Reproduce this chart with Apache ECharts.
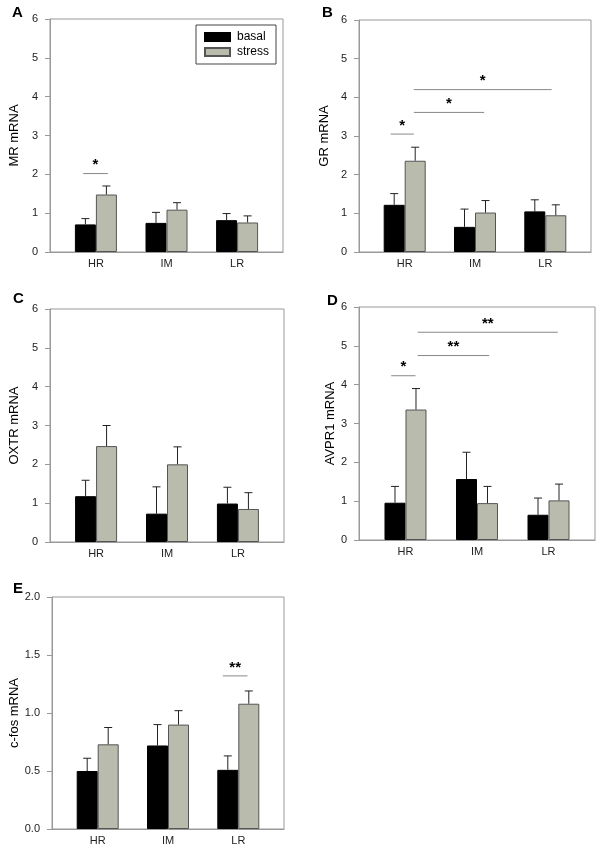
<!DOCTYPE html>
<html>
<head>
<meta charset="utf-8">
<script src="https://cdn.jsdelivr.net/npm/echarts@6/dist/echarts.min.js"></script>
<style>
  html, body { margin: 0; padding: 0; background: #fff; }
  #main { width: 600px; height: 850px; }
</style>
</head>
<body>
<div id="main"></div>
<script>
// groups on the x axis (placed at x = 1, 2, 3 of a value axis)
var groups = ['HR', 'IM', 'LR'];
var groupPos = [1, 2, 3];

// A - MR
var mrBasal = [0.71, 0.75, 0.82];
var mrBasalSem = [0.15, 0.27, 0.17];
var mrStress = [1.48, 1.09, 0.76];
var mrStressSem = [0.22, 0.18, 0.17];
var mrSig = [[0.82, 1.17, 2.02, '*']];

// B - GR
var grBasal = [1.22, 0.65, 1.05];
var grBasalSem = [0.29, 0.46, 0.30];
var grStress = [2.36, 1.02, 0.95];
var grStressSem = [0.35, 0.31, 0.27];
var grSig = [
  [0.8, 1.13, 3.05, '*'],
  [1.13, 2.13, 3.61, '*'],
  [1.13, 3.09, 4.2, '*']
];

// C - OXTR
var oxtrBasal = [1.18, 0.73, 0.99];
var oxtrBasalSem = [0.41, 0.69, 0.42];
var oxtrStress = [2.47, 2.0, 0.85];
var oxtrStressSem = [0.53, 0.45, 0.42];
var oxtrSig = [];

// D - AVPR1
var avprBasal = [0.96, 1.57, 0.65];
var avprBasalSem = [0.42, 0.69, 0.43];
var avprStress = [3.36, 0.95, 1.02];
var avprStressSem = [0.54, 0.43, 0.42];
var avprSig = [
  [0.8, 1.14, 4.23, '*'],
  [1.17, 2.17, 4.75, '**'],
  [1.17, 3.13, 5.35, '**']
];

// E - c-fos
var cfosBasal = [0.50, 0.72, 0.51];
var cfosBasalSem = [0.11, 0.18, 0.12];
var cfosStress = [0.73, 0.90, 1.08];
var cfosStressSem = [0.145, 0.12, 0.11];
var cfosSig = [[2.78, 3.13, 1.32, '**']];

var yTicks6 = { max: 6, interval: 1, digits: 0 };
var yTicks2 = { max: 2, interval: 0.5, digits: 1 };

var panels = [
  { letter: 'A', yName: 'MR mRNA', basal: mrBasal, basalSem: mrBasalSem, stress: mrStress, stressSem: mrStressSem, sig: mrSig, ticks: yTicks6 },
  { letter: 'B', yName: 'GR mRNA', basal: grBasal, basalSem: grBasalSem, stress: grStress, stressSem: grStressSem, sig: grSig, ticks: yTicks6 },
  { letter: 'C', yName: 'OXTR mRNA', basal: oxtrBasal, basalSem: oxtrBasalSem, stress: oxtrStress, stressSem: oxtrStressSem, sig: oxtrSig, ticks: yTicks6 },
  { letter: 'D', yName: 'AVPR1 mRNA', basal: avprBasal, basalSem: avprBasalSem, stress: avprStress, stressSem: avprStressSem, sig: avprSig, ticks: yTicks6 },
  { letter: 'E', yName: 'c-fos mRNA', basal: cfosBasal, basalSem: cfosBasalSem, stress: cfosStress, stressSem: cfosStressSem, sig: cfosSig, ticks: yTicks2 }
];

// layout of each panel (px)
var layout = [
  { left: 50, top: 19, width: 233, height: 233, nameGap: 29, lx: 12, ly: 5 },
  { left: 359, top: 20, width: 232, height: 232, nameGap: 28, lx: 322, ly: 5 },
  { left: 50, top: 309, width: 234, height: 233, nameGap: 29, lx: 13, ly: 291 },
  { left: 359, top: 307, width: 236, height: 233, nameGap: 22, lx: 327, ly: 293 },
  { left: 52, top: 597, width: 232, height: 232, nameGap: 31, lx: 13, ly: 581 }
];

var FONT = 'Liberation Sans, Arial, Helvetica, sans-serif';
var BAR_W = 21;
var AXIS_COLOR = '#999';
var STRESS_COLOR = '#b9bbac';

function pairs(vals) {
  return vals.map(function(v, i) {
    return [groupPos[i], v];
  });
}

function errData(vals, sems, side) {
  return vals.map(function(v, i) {
    return [groupPos[i], v, sems[i], side];
  });
}

function renderErr(params, api) {
  var top = api.coord([api.value(0), api.value(1) + api.value(2)]);
  var base = api.coord([api.value(0), api.value(1)]);
  var cx = base[0] + api.value(3) * BAR_W / 2;
  var style = { stroke: '#222', lineWidth: 1 };
  return {
    type: 'group',
    children: [
      { type: 'line', shape: { x1: cx, y1: base[1], x2: cx, y2: top[1] }, style: style },
      { type: 'line', shape: { x1: cx - 4, y1: top[1], x2: cx + 4, y2: top[1] }, style: style }
    ]
  };
}

function renderSig(params, api) {
  var p1 = api.coord([api.value(0), api.value(2)]);
  var p2 = api.coord([api.value(1), api.value(2)]);
  return {
    type: 'group',
    children: [
      { type: 'line', shape: { x1: p1[0], y1: p1[1], x2: p2[0], y2: p2[1] }, style: { stroke: '#888', lineWidth: 1 } },
      {
        type: 'text',
        x: (p1[0] + p2[0]) / 2,
        y: p1[1] - 1,
        style: {
          text: api.value(3),
          fill: '#000',
          font: 'bold 15px ' + FONT,
          align: 'center',
          verticalAlign: 'bottom'
        }
      }
    ]
  };
}

var option = {
  backgroundColor: '#fff',
  animation: false,
  textStyle: { fontFamily: FONT },
  title: [],
  legend: {
    left: 196,
    top: 25,
    orient: 'vertical',
    data: ['basal', 'stress'],
    icon: 'rect',
    itemWidth: 25,
    itemHeight: 8,
    itemGap: 3,
    padding: [6, 7, 6, 8],
    borderColor: '#444',
    borderWidth: 1,
    textStyle: { fontSize: 12, color: '#000', fontFamily: FONT, padding: [0, 0, 0, 2] }
  },
  grid: [],
  xAxis: [],
  yAxis: [],
  series: []
};

panels.forEach(function(p, i) {
  var l = layout[i];
  option.title.push({
    text: p.letter,
    left: l.lx,
    top: l.ly,
    padding: 0,
    textStyle: { fontSize: 15, fontWeight: 'bold', color: '#000', fontFamily: FONT }
  });
  option.grid.push({
    left: l.left,
    top: l.top,
    width: l.width,
    height: l.height,
    show: true,
    borderColor: AXIS_COLOR,
    borderWidth: 1,
    containLabel: false,
    outerBoundsMode: 'none'
  });
  option.xAxis.push({
    type: 'value',
    gridIndex: i,
    min: 0.35,
    max: 3.65,
    axisLine: { lineStyle: { color: AXIS_COLOR } },
    axisTick: { show: false },
    splitLine: { show: false },
    axisLabel: {
      customValues: groupPos,
      color: '#222',
      fontSize: 11,
      margin: 6,
      formatter: function(v) {
        return groups[groupPos.indexOf(Math.round(v))] || '';
      }
    }
  });
  option.yAxis.push({
    type: 'value',
    gridIndex: i,
    min: 0,
    max: p.ticks.max,
    interval: p.ticks.interval,
    name: p.yName,
    nameLocation: 'middle',
    nameGap: l.nameGap,
    nameTextStyle: { fontSize: 13, color: '#000', fontFamily: FONT },
    axisLine: { show: true, lineStyle: { color: AXIS_COLOR } },
    axisTick: { show: true, length: 5, lineStyle: { color: AXIS_COLOR } },
    splitLine: { show: false },
    axisLabel: {
      color: '#222',
      fontSize: 11,
      margin: 12,
      formatter: (function(d) {
        return function(v) { return v.toFixed(d); };
      })(p.ticks.digits)
    }
  });
  option.series.push(
    {
      name: 'basal',
      type: 'bar',
      xAxisIndex: i,
      yAxisIndex: i,
      barWidth: BAR_W,
      barGap: '0%',
      itemStyle: { color: '#000', borderColor: '#000', borderWidth: 1 },
      data: pairs(p.basal)
    },
    {
      name: 'stress',
      type: 'bar',
      xAxisIndex: i,
      yAxisIndex: i,
      barWidth: BAR_W,
      barGap: '0%',
      itemStyle: { color: STRESS_COLOR, borderColor: '#555', borderWidth: 1 },
      data: pairs(p.stress)
    },
    {
      type: 'custom',
      xAxisIndex: i,
      yAxisIndex: i,
      z: 5,
      renderItem: renderErr,
      data: errData(p.basal, p.basalSem, -1).concat(errData(p.stress, p.stressSem, 1))
    },
    {
      type: 'custom',
      xAxisIndex: i,
      yAxisIndex: i,
      z: 5,
      renderItem: renderSig,
      data: p.sig
    }
  );
});

var chart = echarts.init(document.getElementById('main'));
chart.setOption(option);
</script>
</body>
</html>
